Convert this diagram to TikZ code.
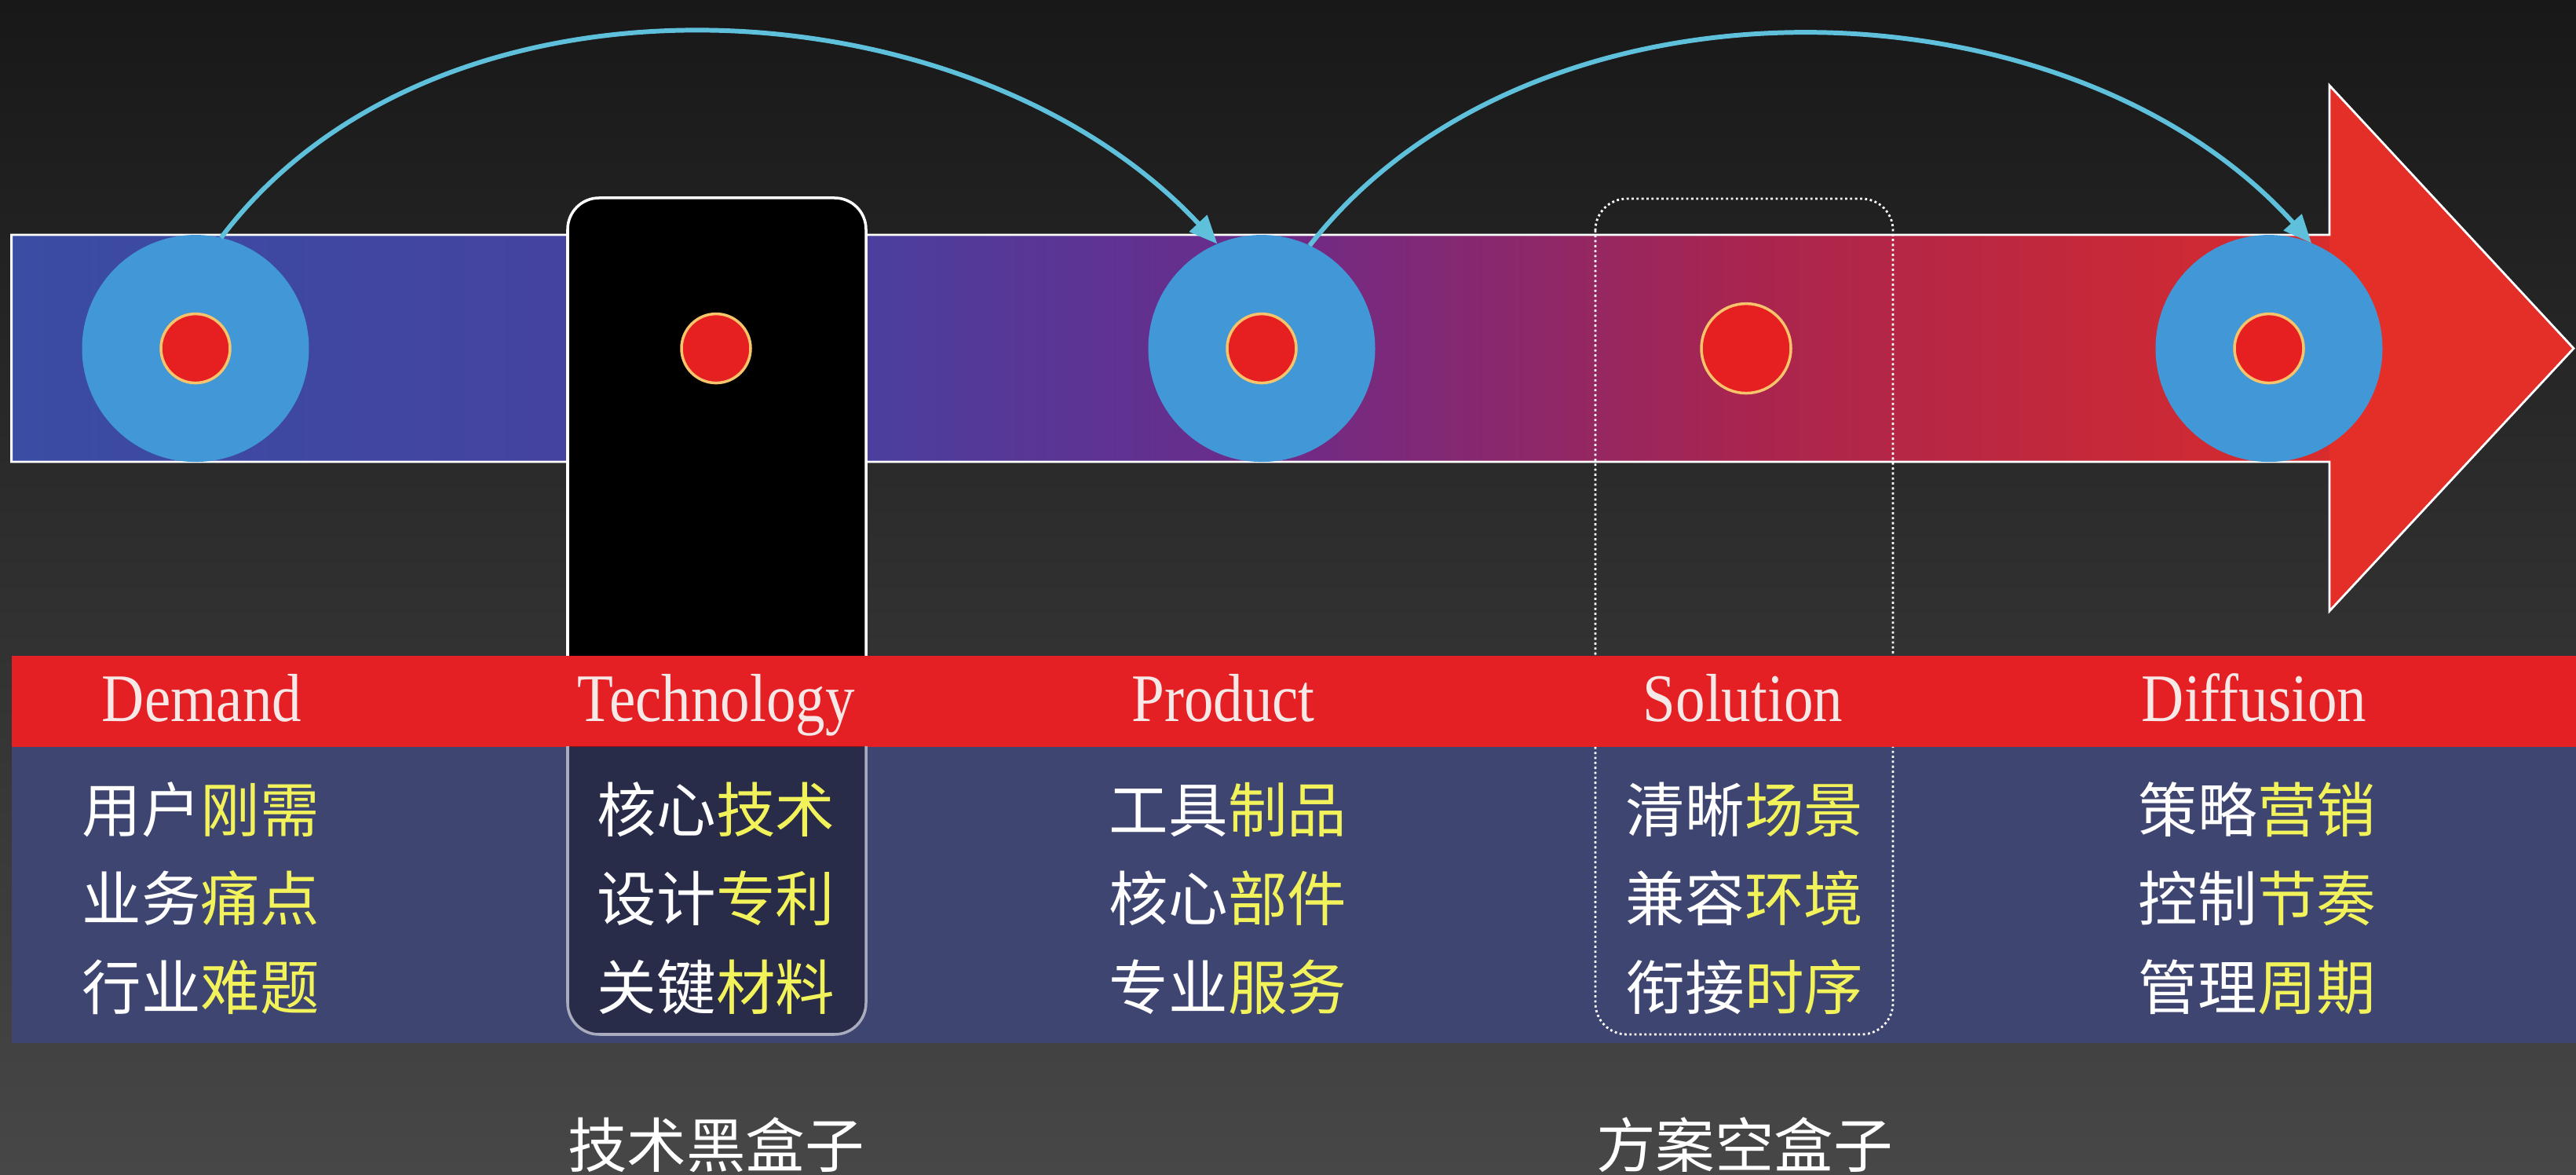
\documentclass[tikz,border=0pt]{standalone}
\usepackage{fontspec}
\setmainfont{Liberation Serif}
\newfontfamily\cjk{Noto Sans CJK SC}
\usetikzlibrary{arrows.meta}

\definecolor{bgtop}{HTML}{181818}
\definecolor{bgbot}{HTML}{474747}
\definecolor{bandA}{HTML}{3A4CA3}
\definecolor{bandB}{HTML}{4A3F9E}
\definecolor{bandC}{HTML}{6C2B8A}
\definecolor{bandD}{HTML}{A8254F}
\definecolor{bandE}{HTML}{D82B2C}
\definecolor{headred}{HTML}{E32F28}
\definecolor{blobblue}{HTML}{4298D6}
\definecolor{dotred}{HTML}{E62020}
\definecolor{dotrim}{HTML}{F7C46C}
\definecolor{arccyan}{HTML}{5FC0DC}
\definecolor{stripred}{HTML}{E42024}
\definecolor{panelnavy}{HTML}{3F4571}
\definecolor{stagetxt}{HTML}{F7E8E8}
\definecolor{itemyellow}{HTML}{F2F25A}

\tikzset{
	blob/.style={circle, fill=blobblue, minimum size=2.89cm, inner sep=0pt, outer sep=0pt},
	dot/.style={circle, fill=dotred, draw=dotrim, line width=1pt, minimum size=0.88cm, inner sep=0pt},
	flow/.style={draw=arccyan, line width=1.7pt, looseness=0.93, -{Triangle[length=3.6mm, width=3mm]}},
	stage/.style={anchor=base, text=stagetxt, font=\fontsize{22}{26}\selectfont},
	item/.style={anchor=base, text=white, font=\cjk\fontsize{21.5}{26}\selectfont},
}
\newcommand{\yel}[1]{\textcolor{itemyellow}{#1}}
\newcommand{\tallen}[1]{\scalebox{0.97}[1.12]{#1}}

\begin{document}
\begin{tikzpicture}
	\useasboundingbox (0,0) rectangle (32.81,-14.96);
	\shade[top color=bgtop, bottom color=bgbot] (0,0) rectangle (32.81,-14.96);

	% the big arrow
	\shade[left color=bandA, right color=bandB] (0.146,-2.99) rectangle (11.03,-5.88);
	\shade[left color=bandB, right color=bandC] (11.03,-2.99) rectangle (16.07,-5.88);
	\shade[left color=bandC, right color=bandD] (16.07,-2.99) rectangle (22.2,-5.88);
	\shade[left color=bandD, right color=bandE] (22.2,-2.99) rectangle (29.68,-5.88);
	\fill[headred] (29.67,-1.088) -- (32.78,-4.436) -- (29.67,-7.78) -- cycle;
	\draw[white, line width=0.8pt, line join=miter] (0.146,-2.99) -- (29.67,-2.99) -- (29.67,-1.088) -- (32.78,-4.436)
		-- (29.67,-7.78) -- (29.67,-5.88) -- (0.146,-5.88) -- cycle;

	\node[blob] (dem) at (2.49,-4.436) {};
	\node[blob] (prod) at (16.07,-4.436) {};
	\node[blob] (diff) at (28.90,-4.436) {};

	% black box
	\draw[white, line width=1pt, fill=black, rounded corners=0.4cm] (7.23,-2.52) rectangle (11.03,-13.17);

	\node[dot] (demdot) at (dem) {};
	\node[dot] (techdot) at (9.12,-4.436) {};
	\node[dot] (proddot) at (prod) {};
	\node[dot, minimum size=1.14cm] (soldot) at (22.24,-4.436) {};
	\node[dot] (diffdot) at (diff) {};

	\draw[flow] (dem.77) to[out=53, in=133] (prod.113);
	\draw[flow] (prod.65) to[out=52, in=132] (diff.68);

	\fill[stripred] (0.15,-8.35) rectangle (32.81,-9.51);
	\fill[panelnavy] (0.15,-9.51) rectangle (32.81,-13.28);
	\begin{scope}
		\clip (0.15,-9.51) rectangle (32.81,-13.28);
		\draw[draw=white!55!panelnavy, line width=1pt, fill=black, fill opacity=0.35, rounded corners=0.4cm]
			(7.23,-2.52) rectangle (11.03,-13.17);
	\end{scope}
	% empty box
	\begin{scope}
		\clip (0,0) rectangle (32.81,-8.35) (0,-9.51) rectangle (32.81,-14.96);
		\draw[white, line width=0.8pt, densely dotted, rounded corners=0.4cm] (20.32,-2.53) rectangle (24.11,-13.17);
	\end{scope}

	\node[stage] (demlbl) at (2.57,-9.19) {\tallen{Demand}};
	\node[stage] (techlbl) at (9.12,-9.19) {\tallen{Technology}};
	\node[stage] (prodlbl) at (15.58,-9.19) {\tallen{Product}};
	\node[stage] (sollbl) at (22.20,-9.19) {\tallen{Solution}};
	\node[stage] (difflbl) at (28.71,-9.19) {\tallen{Diffusion}};

	\node[item] (dem1) at (2.56,-10.59) {用户\yel{刚需}};
	\node[item] (dem2) at (2.56,-11.72) {业务\yel{痛点}};
	\node[item] (dem3) at (2.56,-12.85) {行业\yel{难题}};
	\node[item] (tech1) at (9.12,-10.59) {核心\yel{技术}};
	\node[item] (tech2) at (9.12,-11.72) {设计\yel{专利}};
	\node[item] (tech3) at (9.12,-12.85) {关键\yel{材料}};
	\node[item] (prod1) at (15.64,-10.59) {工具\yel{制品}};
	\node[item] (prod2) at (15.64,-11.72) {核心\yel{部件}};
	\node[item] (prod3) at (15.64,-12.85) {专业\yel{服务}};
	\node[item] (sol1) at (22.22,-10.59) {清晰\yel{场景}};
	\node[item] (sol2) at (22.22,-11.72) {兼容\yel{环境}};
	\node[item] (sol3) at (22.22,-12.85) {衔接\yel{时序}};
	\node[item] (diff1) at (28.75,-10.59) {策略\yel{营销}};
	\node[item] (diff2) at (28.75,-11.72) {控制\yel{节奏}};
	\node[item] (diff3) at (28.75,-12.85) {管理\yel{周期}};

	\node[item] (blackbox) at (9.12,-14.86) {技术黑盒子};
	\node[item] (emptybox) at (22.22,-14.86) {方案空盒子};
\end{tikzpicture}
\end{document}
